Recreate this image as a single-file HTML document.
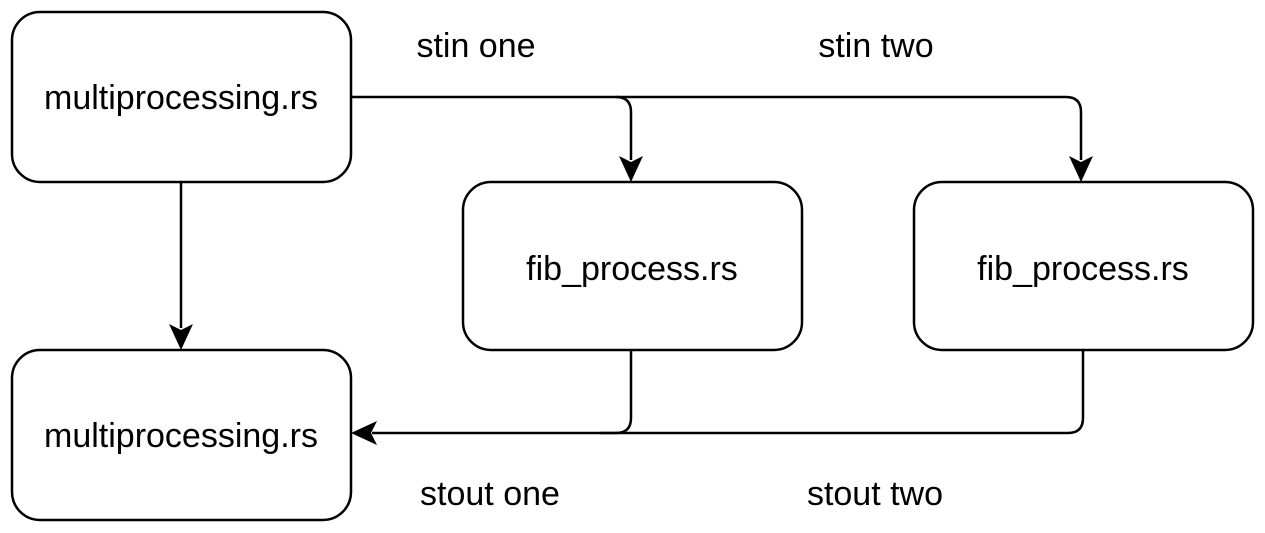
<!DOCTYPE html>
<html><head><style>
body{margin:0;background:#fff;}
svg{display:block}
text{font-family:"Liberation Sans",Helvetica,sans-serif;font-size:34px;fill:#000}
</style></head><body>
<svg width="1265" height="533" viewBox="0 0 1265 533">
<g fill="#fff" stroke="#000" stroke-width="2.5">
<rect x="12" y="12" width="339" height="170" rx="28"/>
<rect x="12" y="350" width="339" height="170" rx="28"/>
<rect x="463" y="182" width="339" height="168" rx="28"/>
<rect x="914" y="182" width="339" height="168" rx="28"/>
</g>
<g fill="none" stroke="#000" stroke-width="2.5">
<path d="M351 97 H1066 Q1081 97 1081 112 V160"/>
<path d="M616 97 Q631 97 631 112 V160"/>
<path d="M181 182 V328"/>
<path d="M631 350 V418 Q631 433 616 433 H372"/>
<path d="M1083 350 V418 Q1083 433 1068 433 H600"/>
</g>
<g fill="#000">
<path d="M619 156 L631 182 L643 156 L631 162 Z"/>
<path d="M1069 156 L1081 182 L1093 156 L1081 162 Z"/>
<path d="M169 324 L181 350 L193 324 L181 330 Z"/>
<path d="M377 421 L351 433 L377 445 L371 433 Z"/>
</g>
<g text-anchor="middle">
<text x="181" y="109">multiprocessing.rs</text>
<text x="181" y="447">multiprocessing.rs</text>
<text x="632" y="280">fib_process.rs</text>
<text x="1083" y="280">fib_process.rs</text>
<text x="476" y="57">stin one</text>
<text x="876" y="57">stin two</text>
<text x="490" y="505">stout one</text>
<text x="875" y="505">stout two</text>
</g>
</svg>
</body></html>
